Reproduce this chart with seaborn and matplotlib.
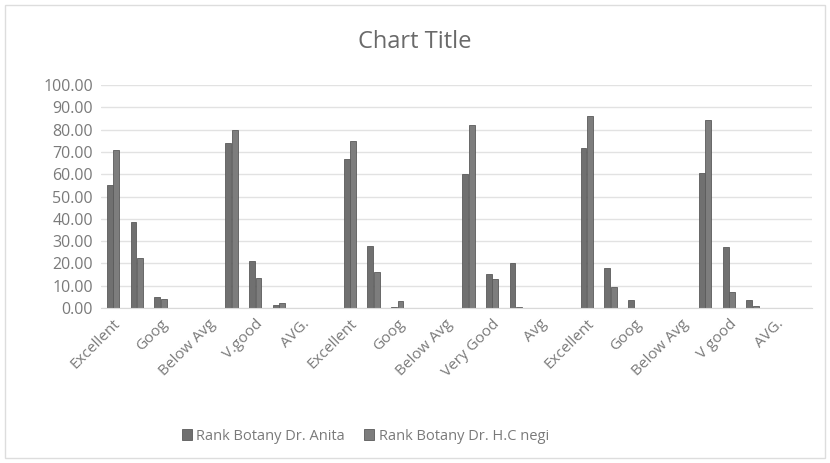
import numpy as np
import pandas as pd
import matplotlib
matplotlib.use("Agg")
import matplotlib.pyplot as plt
import seaborn as sns

# 30 categories (Excel shows every 2nd label); each block of 5 repeats
categories = [
    "Excellent", "V.good", "Goog", "AVG", "Below Avg",
    "Excellent", "V.good", "Goog", "AVG", "Below Avg",
    "Excellent", "Very Good", "Goog", "Avg", "Below Avg",
    "Excellent", "Very Good", "Goog", "Avg", "Below Avg",
    "Excellent", "V good", "Goog", "AVG.", "Below Avg",
    "Excellent", "V good", "Goog", "AVG.", "Below Avg",
]
# labels actually shown on the axis (even positions)
shown_labels = [
    "Excellent", "Goog", "Below Avg", "V.good", "AVG.",
    "Excellent", "Goog", "Below Avg", "Very Good", "Avg",
    "Excellent", "Goog", "Below Avg", "V good", "AVG.",
]
nan = np.nan
anita = [55.0, 38.5, 4.8, nan, nan,
         74.0, 21.0, 1.2, nan, nan,
         67.0, 28.0, 0.5, nan, nan,
         60.0, 15.0, 20.0, nan, nan,
         72.0, 18.0, 3.5, nan, nan,
         60.5, 27.5, 3.5, nan, nan]
negi = [71.0, 22.5, 4.0, nan, nan,
        80.0, 13.5, 2.4, nan, nan,
        75.0, 16.0, 3.0, nan, nan,
        82.0, 13.0, 0.5, nan, nan,
        86.0, 9.5, 0.0, nan, nan,
        84.5, 7.0, 1.0, nan, nan]
series_names = ["Rank Botany Dr. Anita", "Rank Botany Dr. H.C negi"]
colors = ["#707070", "#7d7d7d"]

pos = list(range(len(categories)))
df = pd.DataFrame({
    "pos": pos * 2,
    "value": anita + negi,
    "series": [series_names[0]] * len(pos) + [series_names[1]] * len(pos),
})

sns.set_style("white")
plt.rcParams["font.family"] = ["Open Sans", "DejaVu Sans"]

fig = plt.figure(figsize=(8.3, 4.63), dpi=100)
ax = fig.add_axes([0.122, 0.335, 0.856, 0.481])

sns.barplot(data=df, x="pos", y="value", hue="series", order=pos,
            palette=colors, width=0.55, gap=0.1, ax=ax, legend=True,
            saturation=1, edgecolor="#5a5a5a", linewidth=0.6)

ax.set_ylim(0, 100)
ax.set_yticks(np.arange(0, 101, 10))
ax.set_yticklabels([f"{v:.2f}" for v in np.arange(0, 101, 10)],
                   color="#7a7a7a", fontsize=11.5)
ax.set_xticks(pos[::2])
ax.set_xticklabels(shown_labels, rotation=45, ha="right",
                   rotation_mode="anchor", color="#7a7a7a", fontsize=11)
ax.tick_params(axis="both", length=0, pad=6)
ax.set_xlabel("")
ax.set_ylabel("")
ax.grid(axis="y", color="#e2e2e2", linewidth=1)
ax.set_axisbelow(True)
for s in ["top", "right", "left"]:
    ax.spines[s].set_visible(False)
ax.spines["bottom"].set_color("#d9d9d9")

fig.suptitle("Chart Title", x=0.5, y=0.935, fontsize=17, color="#6a6a6a")

handles, labels = ax.get_legend_handles_labels()
ax.legend_.remove()
fig.legend(handles, labels, loc="center", bbox_to_anchor=(0.44, 0.058),
           ncol=2, frameon=False, fontsize=10.5, labelcolor="#7a7a7a",
           handlelength=0.7, handleheight=0.7, handletextpad=0.3,
           columnspacing=1.3)

fig.patches.append(plt.Rectangle((0.006, 0.01), 0.988, 0.98,
                                 transform=fig.transFigure, fill=False,
                                 edgecolor="#dddddd", linewidth=1))

fig.savefig("out.png", dpi=100, facecolor="white")
